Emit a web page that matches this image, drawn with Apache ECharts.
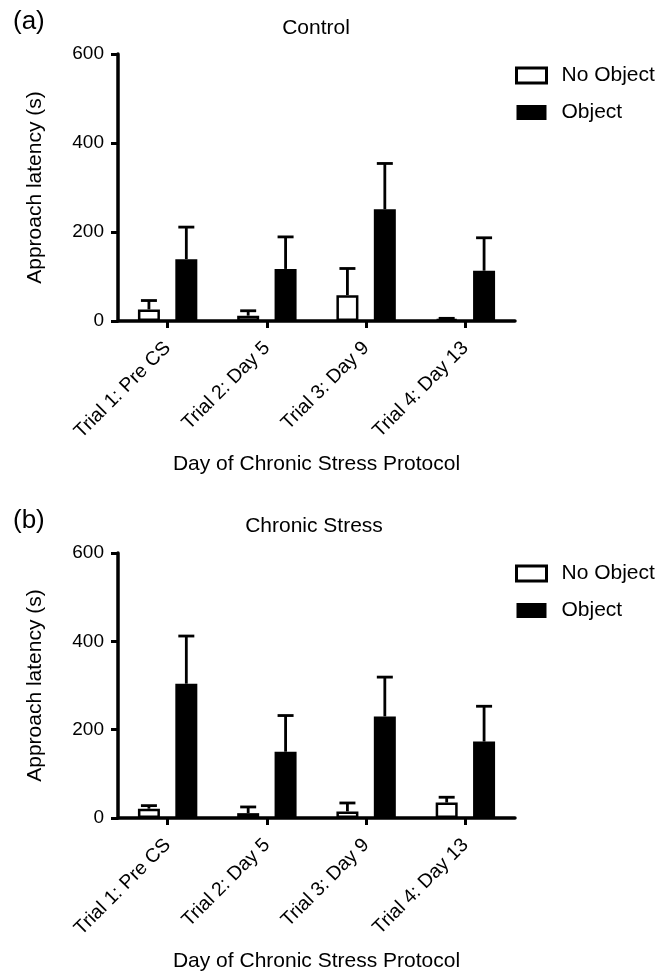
<!DOCTYPE html>
<html>
<head>
<meta charset="utf-8">
<script src="https://cdn.jsdelivr.net/npm/echarts@6/dist/echarts.min.js"></script>
<style>
html,body{margin:0;padding:0;background:#fff;}
#chart{width:670px;height:973px;}
</style>
</head>
<body>
<div id="chart"></div>
<script>
// ---- data ----
const categories = ['Trial 1: Pre CS', 'Trial 2: Day 5', 'Trial 3: Day 9', 'Trial 4: Day 13'];
const seriesNames = ['No Object', 'Object'];
const yTicks = [0, 200, 400, 600];

const controlNoObject = [26, 12, 58, 4];
const controlNoObjectErr = [20, 11, 60, 2];
const controlObject = [139, 117, 251, 113];
const controlObjectErr = [72, 72, 103, 74];

const stressNoObject = [21, 11, 15, 35];
const stressNoObjectErr = [7, 14, 19, 12];
const stressObject = [304, 150, 230, 173];
const stressObjectErr = [108, 82, 89, 80];

const panelTitles = ['Control', 'Chronic Stress'];
const panelLabels = ['(a)', '(b)'];
const xAxisName = 'Day of Chronic Stress Protocol';
const yAxisName = 'Approach latency (s)';

// ---- style ----
const FONT = 'Liberation Sans, Arial, Helvetica, sans-serif';
const INK = '#000';
const BAR_W = 22;
const BAR_GAP = 0.70;
const grids = [
  {left: 118, width: 397, top: 54, height: 267},
  {left: 118, width: 397, top: 553, height: 266}
];

function errSeries(gridIdx, vals, errs, sideSign) {
  return {
    type: 'custom',
    xAxisIndex: gridIdx, yAxisIndex: gridIdx,
    z: 5,
    silent: true,
    data: vals.map((v, i) => [i, v, errs[i]]),
    encode: {x: 0, y: 1},
    renderItem: function (params, api) {
      const ci = api.value(0), v = api.value(1), e = api.value(2);
      const base = api.coord([ci, v]);
      const top = api.coord([ci, v + e]);
      const off = sideSign * BAR_W * (1 + BAR_GAP) / 2;
      const x = base[0] + off;
      const cap = 8;
      return {
        type: 'group',
        children: [
          {type: 'line', shape: {x1: x, y1: base[1], x2: x, y2: top[1]}, style: {stroke: INK, lineWidth: 2.8}},
          {type: 'line', shape: {x1: x - cap, y1: top[1], x2: x + cap, y2: top[1]}, style: {stroke: INK, lineWidth: 2.8}}
        ]
      };
    }
  };
}

function barSeries(gridIdx, name, vals, filled) {
  return {
    type: 'bar', name: name,
    xAxisIndex: gridIdx, yAxisIndex: gridIdx,
    barWidth: BAR_W, barGap: Math.round(BAR_GAP * 100) + '%',
    data: vals,
    itemStyle: filled ? {color: INK, borderColor: INK, borderWidth: 2}
                      : {color: '#fff', borderColor: INK, borderWidth: 2.5},
    z: 2
  };
}

const xAxes = grids.map((g, i) => ({
  type: 'category', gridIndex: i, data: categories,
  boundaryGap: true,
  axisLine: {lineStyle: {color: INK, width: 3.5}},
  axisTick: {show: true, alignWithLabel: true, length: 7, lineStyle: {color: INK, width: 3}},
  axisLabel: {rotate: 45, interval: 0, color: INK, fontFamily: FONT, fontSize: 19.5, margin: 24},
  name: xAxisName, nameLocation: 'middle', nameGap: 133,
  nameTextStyle: {color: INK, fontFamily: FONT, fontSize: 21}
}));

const yAxes = grids.map((g, i) => ({
  type: 'value', gridIndex: i, min: yTicks[0], max: yTicks[yTicks.length - 1],
  interval: yTicks[1] - yTicks[0],
  axisLine: {show: true, lineStyle: {color: INK, width: 3.5}},
  axisTick: {show: true, length: 7, lineStyle: {color: INK, width: 3}},
  splitLine: {show: false},
  axisLabel: {color: INK, fontFamily: FONT, fontSize: 19, margin: 14},
  name: yAxisName, nameLocation: 'middle', nameGap: 72,
  nameTextStyle: {color: INK, fontFamily: FONT, fontSize: 21}
}));

const legendData = [
  {name: seriesNames[0], itemStyle: {color: '#fff', borderColor: INK, borderWidth: 3}},
  {name: seriesNames[1], itemStyle: {color: INK, borderWidth: 0}}
];

function legendAt(top) {
  return {data: legendData, orient: 'vertical', left: 515, top: top, padding: 0,
    itemWidth: 30, itemHeight: 15, itemGap: 16, icon: 'rect', selectedMode: false,
    textStyle: {color: INK, fontFamily: FONT, fontSize: 21, lineHeight: 21, padding: [0, 0, 0, 10]}};
}

const option = {
  animation: false,
  backgroundColor: '#fff',
  title: [
    {text: panelLabels[0], left: 13, top: 9, padding: 0, textStyle: {color: INK, fontFamily: FONT, fontSize: 26, fontWeight: 'normal'}},
    {text: panelTitles[0], left: 316, top: 18, padding: 0, textAlign: 'center', textStyle: {color: INK, fontFamily: FONT, fontSize: 21, fontWeight: 'normal'}},
    {text: panelLabels[1], left: 13, top: 508, padding: 0, textStyle: {color: INK, fontFamily: FONT, fontSize: 26, fontWeight: 'normal'}},
    {text: panelTitles[1], left: 314, top: 516, padding: 0, textAlign: 'center', textStyle: {color: INK, fontFamily: FONT, fontSize: 21, fontWeight: 'normal'}}
  ],
  legend: [legendAt(65), legendAt(563)],
  grid: grids,
  xAxis: xAxes,
  yAxis: yAxes,
  series: [
    barSeries(0, seriesNames[0], controlNoObject, false),
    barSeries(0, seriesNames[1], controlObject, true),
    errSeries(0, controlNoObject, controlNoObjectErr, -1),
    errSeries(0, controlObject, controlObjectErr, 1),
    barSeries(1, seriesNames[0], stressNoObject, false),
    barSeries(1, seriesNames[1], stressObject, true),
    errSeries(1, stressNoObject, stressNoObjectErr, -1),
    errSeries(1, stressObject, stressObjectErr, 1)
  ]
};

const chart = echarts.init(document.getElementById('chart'), null, {renderer: 'canvas'});
chart.setOption(option);
</script>
</body>
</html>
